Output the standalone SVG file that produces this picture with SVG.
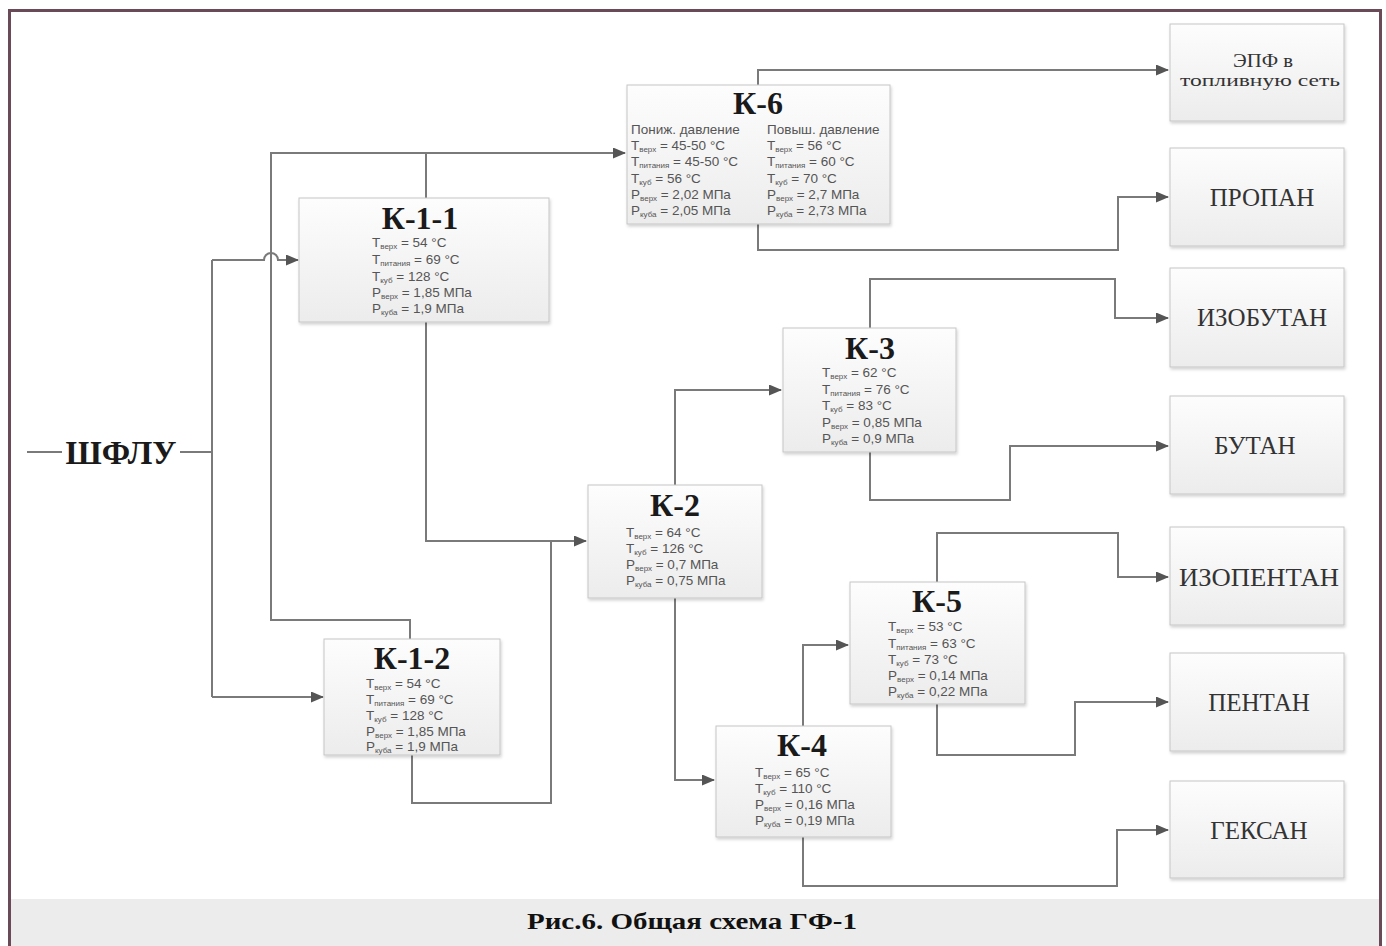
<svg xmlns="http://www.w3.org/2000/svg" width="1386" height="946" viewBox="0 0 1386 946">
<style>
.frame{fill:none;stroke:#6b4a58;stroke-width:3}
.box{fill:url(#g);stroke:#c6c6c6;stroke-width:1;filter:url(#sh)}
.t{font-family:"Liberation Serif","Times New Roman",serif;font-weight:bold;fill:#1a1a1a;text-anchor:middle}
.p{font-family:"Liberation Sans",Arial,sans-serif;font-size:13.5px;fill:#555}
.s{font-size:8px}
.out{font-family:"Liberation Serif","Times New Roman",serif;font-size:25px;fill:#333;text-anchor:middle}
.sm{font-size:17px}
.c{fill:none;stroke:#7a7a7a;stroke-width:2}
</style>
<defs>
<linearGradient id="g" x1="0" y1="0" x2="0" y2="1">
<stop offset="0" stop-color="#fdfdfd"/>
<stop offset="1" stop-color="#ececec"/>
</linearGradient>
<filter id="sh" x="-10%" y="-10%" width="120%" height="130%">
<feDropShadow dx="1" dy="2" stdDeviation="1.5" flood-color="#000" flood-opacity="0.18"/>
</filter>
<marker id="a" markerUnits="userSpaceOnUse" markerWidth="13" markerHeight="11" refX="12" refY="5.5" orient="auto">
<path d="M0,0 L13,5.5 L0,11 z" fill="#555"/>
</marker>
</defs>
<rect width="1386" height="946" fill="#fff"/>
<rect x="11" y="899" width="1369" height="47" fill="#ebeceb"/>
<path class="frame" d="M9.5,946 V10.5 H1380.5 V946"/>
<text x="692" y="929" font-family="'Liberation Serif','Times New Roman',serif" font-weight="bold" font-size="24" text-anchor="middle" fill="#111" textLength="330" lengthAdjust="spacingAndGlyphs">Рис.6. Общая схема ГФ-1</text>

<g id="connectors">
<path class="c" d="M27,452 H62"/>
<path class="c" d="M180,452 H212"/>
<path class="c" d="M212,260 V697"/>
<path class="c" d="M212,260 H264 a7,7 0 0 1 14,0 H298" marker-end="url(#a)"/>
<path class="c" d="M212,697 H323" marker-end="url(#a)"/>
<path class="c" d="M410,639 V620 H271 V153 H625" marker-end="url(#a)"/>
<path class="c" d="M426,198 V153"/>
<path class="c" d="M426,322 V541 H586" marker-end="url(#a)"/>
<path class="c" d="M412,755 V803 H551 V541"/>
<path class="c" d="M675,485 V390 H781" marker-end="url(#a)"/>
<path class="c" d="M675,598 V780 H714" marker-end="url(#a)"/>
<path class="c" d="M758,85 V70 H1168" marker-end="url(#a)"/>
<path class="c" d="M758,224 V250 H1118 V197 H1168" marker-end="url(#a)"/>
<path class="c" d="M870,328 V279 H1115 V318 H1168" marker-end="url(#a)"/>
<path class="c" d="M870,452 V500 H1010 V446 H1168" marker-end="url(#a)"/>
<path class="c" d="M803,726 V645 H848" marker-end="url(#a)"/>
<path class="c" d="M803,837 V886 H1117 V830 H1168" marker-end="url(#a)"/>
<path class="c" d="M937,582 V533 H1118 V577 H1168" marker-end="url(#a)"/>
<path class="c" d="M937,704 V755 H1075 V702 H1168" marker-end="url(#a)"/>
</g>

<g id="shflu">
<text class="t" x="121" y="464" font-size="33">ШФЛУ</text>
</g>

<g id="k6">
<rect class="box" x="627" y="85" width="263" height="139"/>
<text class="t" x="758" y="114" font-size="32">К-6</text>
<text class="p" x="631" y="134">Пониж. давление</text>
<text class="p" x="631" y="150">T<tspan class="s" dy="2">верх</tspan><tspan dy="-2"> = 45-50 °C</tspan></text>
<text class="p" x="631" y="166">T<tspan class="s" dy="2">питания</tspan><tspan dy="-2"> = 45-50 °C</tspan></text>
<text class="p" x="631" y="183">T<tspan class="s" dy="2">куб</tspan><tspan dy="-2"> = 56 °C</tspan></text>
<text class="p" x="631" y="199">P<tspan class="s" dy="2">верх</tspan><tspan dy="-2"> = 2,02 МПа</tspan></text>
<text class="p" x="631" y="215">P<tspan class="s" dy="2">куба</tspan><tspan dy="-2"> = 2,05 МПа</tspan></text>
<text class="p" x="767" y="134">Повыш. давление</text>
<text class="p" x="767" y="150">T<tspan class="s" dy="2">верх</tspan><tspan dy="-2"> = 56 °C</tspan></text>
<text class="p" x="767" y="166">T<tspan class="s" dy="2">питания</tspan><tspan dy="-2"> = 60 °C</tspan></text>
<text class="p" x="767" y="183">T<tspan class="s" dy="2">куб</tspan><tspan dy="-2"> = 70 °C</tspan></text>
<text class="p" x="767" y="199">P<tspan class="s" dy="2">верх</tspan><tspan dy="-2"> = 2,7 МПа</tspan></text>
<text class="p" x="767" y="215">P<tspan class="s" dy="2">куба</tspan><tspan dy="-2"> = 2,73 МПа</tspan></text>
</g>

<g id="k11">
<rect class="box" x="299" y="198" width="250" height="124"/>
<text class="t" x="420" y="229" font-size="32">К-1-1</text>
<text class="p" x="372" y="247">T<tspan class="s" dy="2">верх</tspan><tspan dy="-2"> = 54 °C</tspan></text>
<text class="p" x="372" y="264">T<tspan class="s" dy="2">питания</tspan><tspan dy="-2"> = 69 °C</tspan></text>
<text class="p" x="372" y="281">T<tspan class="s" dy="2">куб</tspan><tspan dy="-2"> = 128 °C</tspan></text>
<text class="p" x="372" y="297">P<tspan class="s" dy="2">верх</tspan><tspan dy="-2"> = 1,85 МПа</tspan></text>
<text class="p" x="372" y="313">P<tspan class="s" dy="2">куба</tspan><tspan dy="-2"> = 1,9 МПа</tspan></text>
</g>

<g id="k12">
<rect class="box" x="324" y="639" width="176" height="116"/>
<text class="t" x="412" y="669" font-size="32">К-1-2</text>
<text class="p" x="366" y="688">T<tspan class="s" dy="2">верх</tspan><tspan dy="-2"> = 54 °C</tspan></text>
<text class="p" x="366" y="704">T<tspan class="s" dy="2">питания</tspan><tspan dy="-2"> = 69 °C</tspan></text>
<text class="p" x="366" y="720">T<tspan class="s" dy="2">куб</tspan><tspan dy="-2"> = 128 °C</tspan></text>
<text class="p" x="366" y="736">P<tspan class="s" dy="2">верх</tspan><tspan dy="-2"> = 1,85 МПа</tspan></text>
<text class="p" x="366" y="751">P<tspan class="s" dy="2">куба</tspan><tspan dy="-2"> = 1,9 МПа</tspan></text>
</g>

<g id="k2">
<rect class="box" x="588" y="485" width="174" height="113"/>
<text class="t" x="675" y="516" font-size="32">К-2</text>
<text class="p" x="626" y="537">T<tspan class="s" dy="2">верх</tspan><tspan dy="-2"> = 64 °C</tspan></text>
<text class="p" x="626" y="553">T<tspan class="s" dy="2">куб</tspan><tspan dy="-2"> = 126 °C</tspan></text>
<text class="p" x="626" y="569">P<tspan class="s" dy="2">верх</tspan><tspan dy="-2"> = 0,7 МПа</tspan></text>
<text class="p" x="626" y="585">P<tspan class="s" dy="2">куба</tspan><tspan dy="-2"> = 0,75 МПа</tspan></text>
</g>

<g id="k3">
<rect class="box" x="783" y="328" width="173" height="124"/>
<text class="t" x="870" y="359" font-size="32">К-3</text>
<text class="p" x="822" y="377">T<tspan class="s" dy="2">верх</tspan><tspan dy="-2"> = 62 °C</tspan></text>
<text class="p" x="822" y="394">T<tspan class="s" dy="2">питания</tspan><tspan dy="-2"> = 76 °C</tspan></text>
<text class="p" x="822" y="410">T<tspan class="s" dy="2">куб</tspan><tspan dy="-2"> = 83 °C</tspan></text>
<text class="p" x="822" y="427">P<tspan class="s" dy="2">верх</tspan><tspan dy="-2"> = 0,85 МПа</tspan></text>
<text class="p" x="822" y="443">P<tspan class="s" dy="2">куба</tspan><tspan dy="-2"> = 0,9 МПа</tspan></text>
</g>

<g id="k4">
<rect class="box" x="716" y="726" width="175" height="111"/>
<text class="t" x="802" y="756" font-size="32">К-4</text>
<text class="p" x="755" y="777">T<tspan class="s" dy="2">верх</tspan><tspan dy="-2"> = 65 °C</tspan></text>
<text class="p" x="755" y="793">T<tspan class="s" dy="2">куб</tspan><tspan dy="-2"> = 110 °C</tspan></text>
<text class="p" x="755" y="809">P<tspan class="s" dy="2">верх</tspan><tspan dy="-2"> = 0,16 МПа</tspan></text>
<text class="p" x="755" y="825">P<tspan class="s" dy="2">куба</tspan><tspan dy="-2"> = 0,19 МПа</tspan></text>
</g>

<g id="k5">
<rect class="box" x="850" y="582" width="175" height="122"/>
<text class="t" x="937" y="612" font-size="32">К-5</text>
<text class="p" x="888" y="631">T<tspan class="s" dy="2">верх</tspan><tspan dy="-2"> = 53 °C</tspan></text>
<text class="p" x="888" y="648">T<tspan class="s" dy="2">питания</tspan><tspan dy="-2"> = 63 °C</tspan></text>
<text class="p" x="888" y="664">T<tspan class="s" dy="2">куб</tspan><tspan dy="-2"> = 73 °C</tspan></text>
<text class="p" x="888" y="680">P<tspan class="s" dy="2">верх</tspan><tspan dy="-2"> = 0,14 МПа</tspan></text>
<text class="p" x="888" y="696">P<tspan class="s" dy="2">куба</tspan><tspan dy="-2"> = 0,22 МПа</tspan></text>
</g>

<g id="epf">
<rect class="box" x="1170" y="24" width="174" height="97"/>
<text class="out" x="1263" y="67" style="font-size:19px" textLength="60" lengthAdjust="spacingAndGlyphs">ЭПФ в</text>
<text class="out sm" x="1260" y="86" textLength="160" lengthAdjust="spacingAndGlyphs">топливную сеть</text>
</g>
<g id="propan">
<rect class="box" x="1170" y="148" width="174" height="98"/>
<text class="out" x="1262" y="206">ПРОПАН</text>
</g>
<g id="izobutan">
<rect class="box" x="1170" y="268" width="174" height="99"/>
<text class="out" x="1262" y="326">ИЗОБУТАН</text>
</g>
<g id="butan">
<rect class="box" x="1170" y="396" width="174" height="98"/>
<text class="out" x="1255" y="454">БУТАН</text>
</g>
<g id="izopentan">
<rect class="box" x="1170" y="527" width="174" height="98"/>
<text class="out" x="1259" y="586" textLength="160" lengthAdjust="spacingAndGlyphs">ИЗОПЕНТАН</text>
</g>
<g id="pentan">
<rect class="box" x="1170" y="653" width="174" height="98"/>
<text class="out" x="1259" y="711">ПЕНТАН</text>
</g>
<g id="geksan">
<rect class="box" x="1170" y="781" width="174" height="97"/>
<text class="out" x="1259" y="839">ГЕКСАН</text>
</g>
</svg>
